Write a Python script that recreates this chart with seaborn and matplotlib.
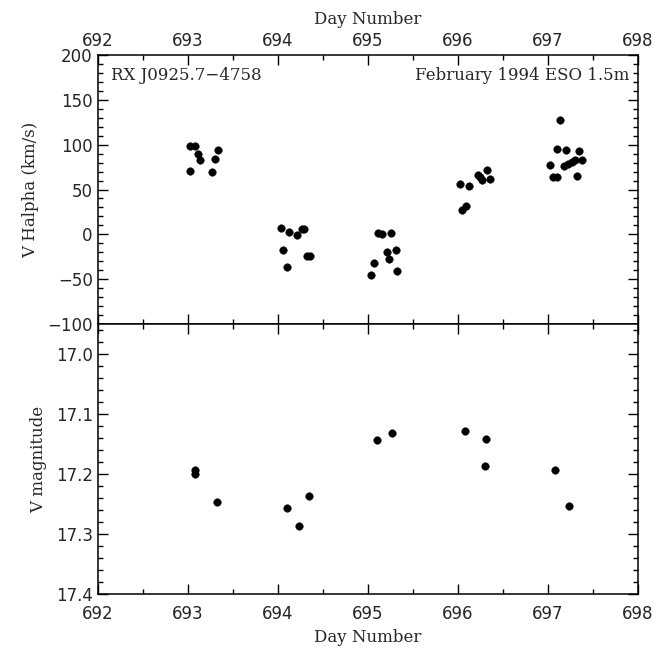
import numpy as np
import pandas as pd
import seaborn as sns
import matplotlib
matplotlib.use("Agg")
import matplotlib.pyplot as plt
from matplotlib.ticker import MultipleLocator

# Radial velocity (H-alpha) data
day_v = [693.03, 693.08, 693.11, 693.14, 693.34, 693.30, 693.03, 693.27,
         694.04, 694.13, 694.21, 694.06, 694.10, 694.27, 694.29, 694.32, 694.36,
         695.11, 695.16, 695.26, 695.21, 695.31, 695.24, 695.07, 695.04, 695.33,
         696.03, 696.12, 696.09, 696.05, 696.22, 696.25, 696.27, 696.33, 696.36,
         697.14, 697.10, 697.20, 697.35, 697.03, 697.18, 697.23, 697.27, 697.30,
         697.38, 697.06, 697.10, 697.33]
vel = [99, 99, 90, 83, 94, 84, 71, 70,
       7, 3, -1, -17, -36, 6, 6, -24, -24,
       1, 0, 1, -20, -17, -27, -32, -45, -41,
       56, 54, 32, 27, 66, 64, 61, 72, 62,
       128, 95, 94, 93, 77, 76, 79, 81, 83,
       83, 64, 64, 65]

# V magnitude data
day_m = [693.08, 693.08, 693.32, 694.10, 694.24, 694.35, 695.10, 695.27,
         696.08, 696.31, 696.30, 697.08, 697.24]
mag = [17.193, 17.200, 17.246, 17.257, 17.287, 17.237, 17.144, 17.132,
       17.129, 17.142, 17.186, 17.193, 17.253]

x_ticks = [692, 693, 694, 695, 696, 697, 698]
x_labels = ["692", "693", "694", "695", "696", "697", "698"]
v_ticks = [-100, -50, 0, 50, 100, 150, 200]
v_labels = ["\u2212100", "\u221250", "0", "50", "100", "150", "200"]
m_ticks = [17.0, 17.1, 17.2, 17.3, 17.4]
m_labels = ["17.0", "17.1", "17.2", "17.3", "17.4"]

sns.set_style("ticks")
plt.rcParams['font.family'] = ['DejaVu Serif']

fig = plt.figure(figsize=(6.58, 6.51), dpi=100)
L, R = 0.1485, 0.9692
ax1 = fig.add_axes([L, 0.5023, R - L, 0.9155 - 0.5023])
ax2 = fig.add_axes([L, 0.0876, R - L, 0.5023 - 0.0876])

df_v = pd.DataFrame({"day": day_v, "vel": vel})
df_m = pd.DataFrame({"day": day_m, "mag": mag})

sns.scatterplot(data=df_v, x="day", y="vel", ax=ax1, color="black",
                s=30, edgecolor="black", linewidth=0.3, legend=False)
sns.scatterplot(data=df_m, x="day", y="mag", ax=ax2, color="black",
                s=30, edgecolor="black", linewidth=0.3, legend=False)

tickfont = {'family': 'DejaVu Sans', 'size': 12}

for ax in (ax1, ax2):
    ax.xaxis.set_minor_locator(MultipleLocator(0.5))
    ax.tick_params(which='both', direction='in', top=True, right=True,
                   left=True, bottom=True, width=1, color='black')
    ax.tick_params(which='major', length=7)
    ax.tick_params(which='minor', length=3.5)
    for sp in ax.spines.values():
        sp.set_linewidth(1.1)
        sp.set_color('black')
        sp.set_visible(True)
    ax.set_xticks(x_ticks)
    ax.set_xticklabels(x_labels, fontdict=tickfont)
    ax.set_xlim(692, 698)

ax1.yaxis.set_minor_locator(MultipleLocator(10))
ax2.yaxis.set_minor_locator(MultipleLocator(0.02))
ax1.set_yticks(v_ticks)
ax1.set_yticklabels(v_labels, fontdict=tickfont)
ax2.set_yticks(m_ticks)
ax2.set_yticklabels(m_labels, fontdict=tickfont)
ax1.set_ylim(-100, 200)
ax2.set_ylim(17.4, 16.95)

ax1.tick_params(axis='x', labeltop=True, labelbottom=False)
ax2.tick_params(axis='x', which='major', pad=8)
ax1.xaxis.set_label_position('top')
ax1.set_xlabel("Day Number", fontsize=12, labelpad=6)
ax1.set_ylabel("V Halpha (km/s)", fontsize=12, labelpad=6)
ax2.set_xlabel("Day Number", fontsize=12, labelpad=4)
ax2.set_ylabel("V magnitude", fontsize=12, labelpad=6)

ax1.text(0.025, 0.925, "RX J0925.7\u22124758", transform=ax1.transAxes,
         fontsize=12, ha='left', va='center')
ax1.text(0.985, 0.925, "February 1994 ESO 1.5m", transform=ax1.transAxes,
         fontsize=12, ha='right', va='center')

fig.savefig("out.png", dpi=100)
